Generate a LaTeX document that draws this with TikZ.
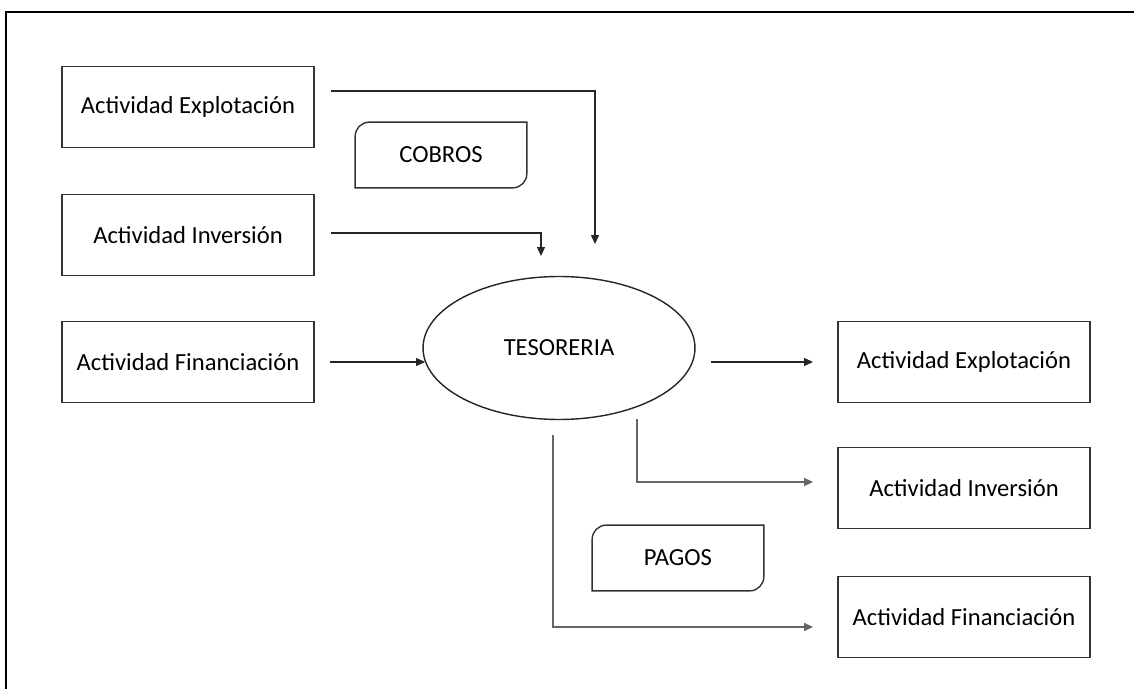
\documentclass[tikz,border=0pt]{standalone}
\usepackage{fontspec}
\setmainfont{Carlito}
\usetikzlibrary{positioning,shapes.geometric,arrows.meta}

\tikzset{
    caja/.style={draw=black!80, line width=0.8pt, minimum width=5.04cm, minimum height=1.62cm, font=\fontsize{14}{16}\selectfont},
    etiqueta/.style={minimum width=3.42cm, minimum height=1.3cm, font=\fontsize{14}{16}\selectfont},
    flecha/.style={draw=black!85, line width=0.6pt, -{Triangle[length=5pt,width=4.5pt]}},
    flechagris/.style={draw=black!60, line width=1pt, -{Triangle[length=5pt,width=4.5pt]}},
}

\begin{document}
\begin{tikzpicture}[x=0.02cm,y=-0.02cm]
    \useasboundingbox (0,0) rectangle (1134,689);
    % marco
    \draw[line width=1.7pt] (6,689) -- (6,12) -- (1134,12);

    %% entradas
    \node[caja] (expI) at (188,107) {Actividad Explotación};
    \node[caja] (invI) at (188,235) {Actividad Inversión};
    \node[caja] (finI) at (188,362) {Actividad Financiación};
    \node[etiqueta] (cobros) at (441,155) {COBROS};

    %% centro
    \node[ellipse, draw=black!85, line width=0.8pt, minimum width=5.44cm, minimum height=2.86cm,
          font=\fontsize{14}{16}\selectfont] (tes) at (559,348) {TESORERIA};

    %% salidas
    \node[caja] (expD) at (964,362) {Actividad Explotación};
    \node[caja] (invD) at (964,488) {Actividad Inversión};
    \node[caja] (finD) at (964,617) {Actividad Financiación};
    \node[etiqueta] (pagos) at (678,558) {PAGOS};

    % recuadros con dos esquinas redondeadas
    \foreach \n in {cobros,pagos}{
        \draw[black!80, line width=0.8pt] (\n.south west) -- ([yshift=-8pt]\n.north west)
            arc[start angle=180, end angle=90, radius=8pt] -- (\n.north east)
            -- ([yshift=8pt]\n.south east) arc[start angle=0, end angle=-90, radius=8pt] -- cycle;
    }

    % puntos libres de las flechas
    \coordinate (c1) at (331,91);
    \coordinate (c1f) at (595,244);
    \coordinate (c2) at (331,233);
    \coordinate (c2f) at (541,256);
    \coordinate (c3) at (330,362);
    \coordinate (c3f) at (425,362);
    \coordinate (c4) at (711,362);
    \coordinate (c4f) at (813,362);
    \coordinate (c5) at (637,419);
    \coordinate (c5f) at (813,482);
    \coordinate (c6) at (553,435);
    \coordinate (c6f) at (813,627);

    \draw[flecha] (c1) -| (c1f);
    \draw[flecha] (c2) -| (c2f);
    \draw[flecha] (c3) -- (c3f);
    \draw[flecha] (c4) -- (c4f);
    \draw[flechagris] (c5) |- (c5f);
    \draw[flechagris] (c6) |- (c6f);
\end{tikzpicture}
\end{document}
